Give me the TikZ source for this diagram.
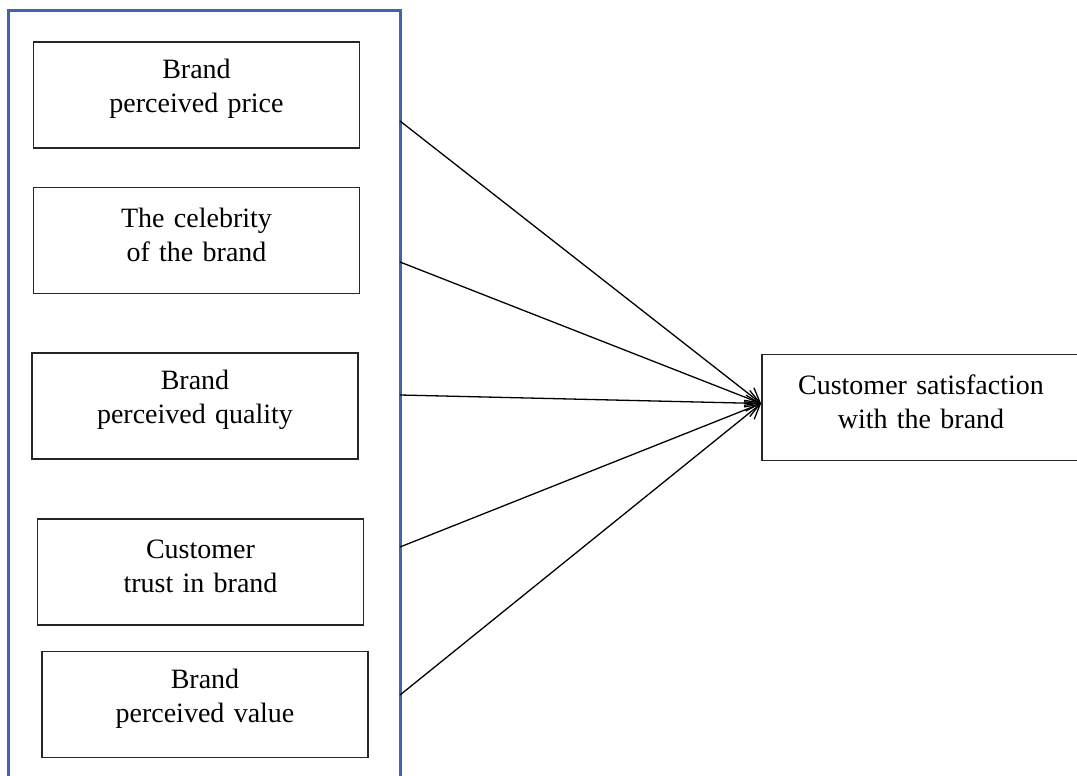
\documentclass[tikz,border=0pt]{standalone}
\usepackage{fontspec}
\setmainfont{Liberation Serif}
\usetikzlibrary{arrows.meta}
\definecolor{frameblue}{RGB}{65,100,170}

\begin{document}
\begin{tikzpicture}[x=0.5pt,y=-0.5pt,
    factor/.style={draw=black!85,line width=0.9pt,inner xsep=0pt,text width=163pt,
        minimum height=53pt,align=center,font=\fontsize{14}{17}\selectfont,
        execute at end node={\endgraf\kern6pt}},
    link/.style={line width=0.65pt,-{Straight Barb[length=7pt,width=8pt]}}]
    \useasboundingbox (0,0) rectangle (1077,776);
    % Marco azul de los factores
    \draw[frameblue,line width=1.5pt] (8,800) -- (8,10) -- (400,10) -- (400,800);
    % Cajas de los factores
    \node[factor] (price) at (196.5,95) {Brand\\perceived price};
    \node[factor] (celebrity) at (196.5,240.5) {The celebrity\\of the brand};
    \node[factor] (quality) at (195,406) {Brand\\perceived quality};
    \node[factor] (trust) at (200.5,572) {Customer\\trust in brand};
    \node[factor] (value) at (205,704.5) {Brand\\perceived value};
    % Caja de la satisfaccion
    \node[factor,text width=159pt] (satisfaction) at (921,407.5) {Customer satisfaction\\with the brand};
    % Puntos de salida en el marco
    \coordinate (out1) at (400,121);
    \coordinate (out2) at (400,262);
    \coordinate (out3) at (400,395);
    \coordinate (out4) at (400,547);
    \coordinate (out5) at (400,695);
    \coordinate (hit) at ([yshift=2pt]satisfaction.west);
    % Flechas
    \foreach \i in {1,...,5}
        \draw[link] (out\i) -- (hit);
\end{tikzpicture}
\end{document}
